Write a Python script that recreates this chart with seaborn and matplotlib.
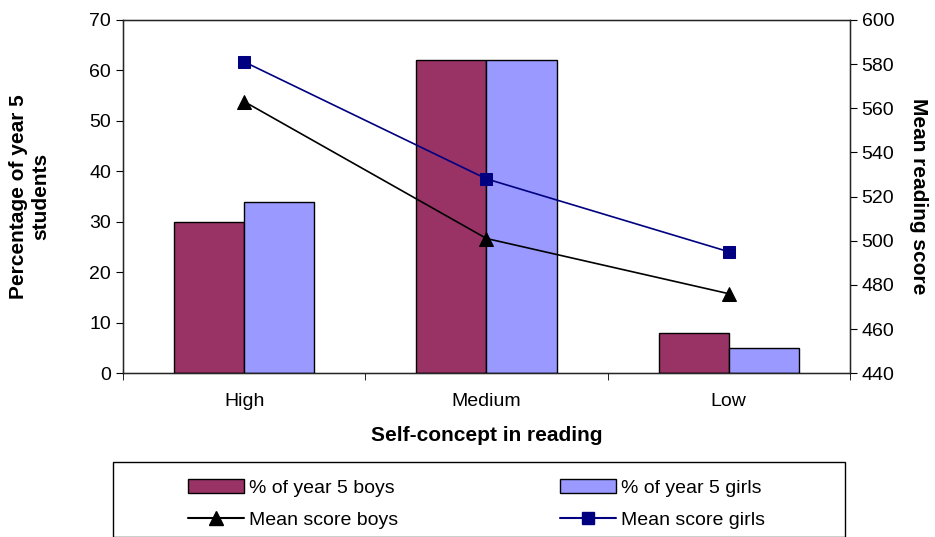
import matplotlib
matplotlib.use("Agg")
import matplotlib.pyplot as plt
import seaborn as sns
import pandas as pd
from matplotlib.ticker import FixedLocator
from matplotlib.patches import Patch, Rectangle
from matplotlib.lines import Line2D

categories = ["High", "Medium", "Low"]
boys_pct = [30, 62, 8]
girls_pct = [34, 62, 5]
boys_score = [563, 501, 476]
girls_score = [581, 528, 495]

sns.set_style("white")
plt.rcParams['font.family'] = ['Liberation Sans', 'DejaVu Sans']
plt.rcParams['text.color'] = 'black'
plt.rcParams['xtick.color'] = 'black'
plt.rcParams['ytick.color'] = 'black'
plt.rcParams['axes.labelcolor'] = 'black'

df = pd.DataFrame({
    "cat": categories * 2,
    "val": boys_pct + girls_pct,
    "series": ["% of year 5 boys"] * 3 + ["% of year 5 girls"] * 3,
})

fig = plt.figure(figsize=(9.35, 5.37), dpi=100)
ax = fig.add_axes([0.1316, 0.305, 0.909 - 0.1316, 0.963 - 0.305])
sns.barplot(data=df, x="cat", y="val", hue="series", order=categories,
            palette=["#993366", "#9999FF"], width=0.58, edgecolor="black",
            linewidth=1, saturation=1, ax=ax, legend=False)
ax.set_xlim(-0.5, 2.5)
ax.set_ylim(0, 70)
ax.set_yticks(range(0, 71, 10))
ax.set_xlabel("Self-concept in reading", fontsize=15, fontweight="bold", labelpad=12)
ax.set_ylabel("Percentage of year 5\nstudents", fontsize=15, fontweight="bold", labelpad=28)
ax.tick_params(axis="x", length=0, labelsize=14, pad=14)
ax.tick_params(axis="y", direction="out", length=5, labelsize=14, left=True)
ax.xaxis.set_minor_locator(FixedLocator([-0.5, 0.5, 1.5, 2.5]))
ax.tick_params(axis="x", which="minor", length=5, direction="out", bottom=True)
for s in ax.spines.values():
    s.set_color("black"); s.set_linewidth(1)

ax2 = ax.twinx()
x = list(range(len(categories)))
sns.lineplot(x=x, y=boys_score, ax=ax2, color="black", marker="^", markersize=10,
             markeredgecolor="black", linewidth=1.2)
sns.lineplot(x=x, y=girls_score, ax=ax2, color="#000080", marker="s", markersize=9,
             markeredgecolor="#000080", linewidth=1.2)
ax2.set_ylim(440, 600)
ax2.set_yticks(range(440, 601, 20))
ax2.tick_params(axis="y", direction="out", length=5, labelsize=14, right=True)
ax2.set_ylabel("Mean reading score", fontsize=15, fontweight="bold", rotation=270, labelpad=24)
ax.set_xlim(-0.5, 2.5)

fig.patches.append(Rectangle((113/935, 0), (845-113)/935, (537-462)/537,
                             transform=fig.transFigure, fill=False,
                             edgecolor="black", linewidth=1))
h1 = [Patch(facecolor="#993366", edgecolor="black", label="% of year 5 boys"),
      Line2D([], [], color="black", marker="^", markersize=10, label="Mean score boys")]
h2 = [Patch(facecolor="#9999FF", edgecolor="black", label="% of year 5 girls"),
      Line2D([], [], color="#000080", marker="s", markersize=9, label="Mean score girls")]
for hs, x0 in ((h1, 180/935), (h2, 552/935)):
    fig.legend(handles=hs, loc="center left", bbox_to_anchor=(x0, (537-504)/537),
               ncol=1, fontsize=14, frameon=False, handlelength=2.9,
               handletextpad=0.25, labelspacing=0.75, borderaxespad=0)
fig.savefig("out.png", dpi=100)
